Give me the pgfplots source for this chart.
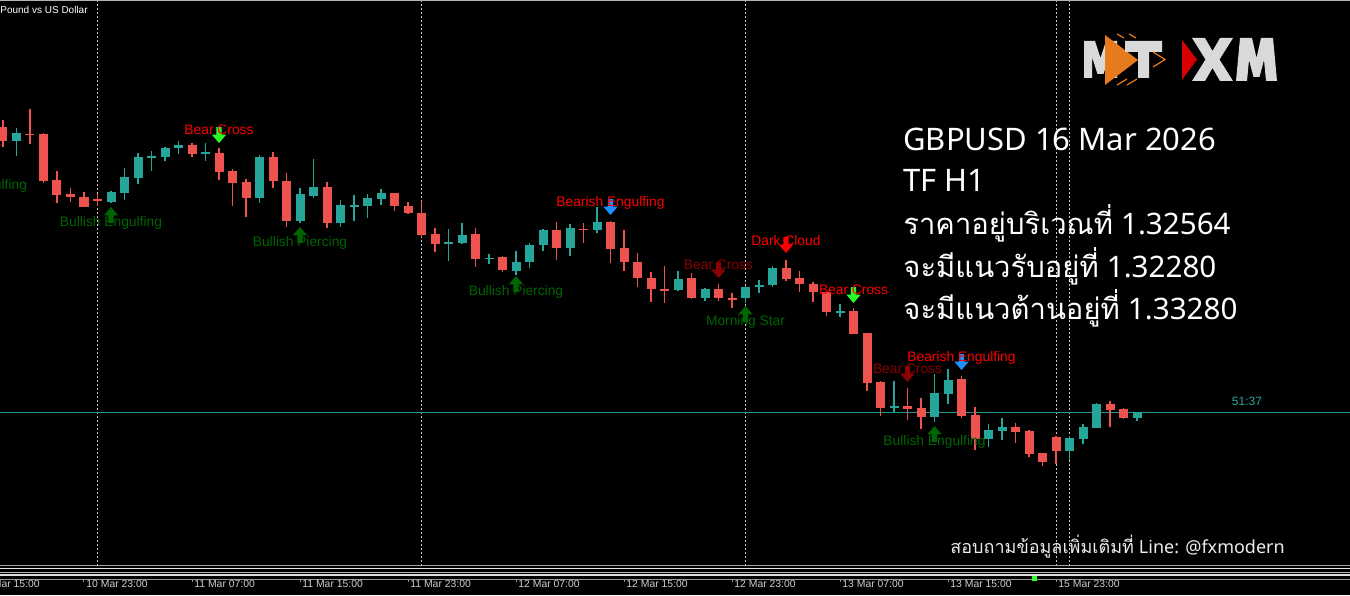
\documentclass[border=0pt]{standalone}
\usepackage{fontspec}
\setmainfont{Liberation Sans}
\newfontfamily\thaifont[Script=Thai]{Loma}
\newfontfamily\nsans{Noto Sans}
\usepackage{pgfplots}
\usepackage{pgfplotstable}
\pgfplotsset{compat=1.18}

\definecolor{bullc}{RGB}{38,166,154}
\definecolor{bearc}{RGB}{239,83,80}
\definecolor{pricec}{RGB}{32,150,140}
\definecolor{dashc}{RGB}{200,200,200}
\definecolor{axisc}{RGB}{150,150,150}
\definecolor{tickc}{RGB}{205,205,205}
\definecolor{sigRed}{RGB}{255,0,0}
\definecolor{sigDkRed}{RGB}{139,0,0}
\definecolor{sigGreen}{RGB}{0,100,0}
\definecolor{sigLime}{RGB}{40,255,40}
\definecolor{sigBlue}{RGB}{30,144,255}
\definecolor{logoGray}{RGB}{217,217,217}
\definecolor{logoOrange}{RGB}{232,122,30}
\definecolor{logoRed}{RGB}{215,0,0}

\newcommand\fsz[1]{\fontsize{#1}{#1}\selectfont}

% signal arrows, tip at the data point
\pgfdeclareplotmark{sigdown}{%
  \pgfpathmoveto{\pgfpoint{0pt}{0pt}}%
  \pgfpathlineto{\pgfpoint{3.6pt}{4.2pt}}%
  \pgfpathlineto{\pgfpoint{1.3pt}{4.2pt}}%
  \pgfpathlineto{\pgfpoint{1.3pt}{8pt}}%
  \pgfpathlineto{\pgfpoint{-1.3pt}{8pt}}%
  \pgfpathlineto{\pgfpoint{-1.3pt}{4.2pt}}%
  \pgfpathlineto{\pgfpoint{-3.6pt}{4.2pt}}%
  \pgfpathclose\pgfusepathqfill}
\pgfdeclareplotmark{sigup}{%
  \pgfpathmoveto{\pgfpoint{0pt}{0pt}}%
  \pgfpathlineto{\pgfpoint{3.6pt}{-4.2pt}}%
  \pgfpathlineto{\pgfpoint{1.3pt}{-4.2pt}}%
  \pgfpathlineto{\pgfpoint{1.3pt}{-8pt}}%
  \pgfpathlineto{\pgfpoint{-1.3pt}{-8pt}}%
  \pgfpathlineto{\pgfpoint{-1.3pt}{-4.2pt}}%
  \pgfpathlineto{\pgfpoint{-3.6pt}{-4.2pt}}%
  \pgfpathclose\pgfusepathqfill}

% H1 candles, x = bar index (0 = 10 Mar 23:00), prices as chart height from the top
\pgfplotstableread{
x o h l c
-6 127.3 120 146.7 140.7
-4 133.7 109 144 134.7
-3 134 133 183 180.7
-2 180 170.7 203.3 195
-1 194.3 188.3 202.3 197
0 197.3 191.7 206.7 206.7
1 199 194.3 206 201
8 145 142.7 156.7 154
10 152.7 148.3 180 171.7
11 171 169.3 206 182.7
12 182.3 179 216.7 198.3
14 157 152 187.7 181
15 181.3 172.7 226.7 220.7
18 187.3 182.3 228.3 222.7
23 193.3 193.3 210.7 205.7
24 206 202.3 214 213.3
25 212.7 201 236.7 234.5
26 234 228.3 251.5 243.7
29 234 228.3 266.7 258.7
31 256.7 256 272.3 269.7
35 229.7 222 260 247.7
37 228.7 223.3 243.3 229.3
39 222 220.7 262.7 249
40 248.3 230 270.7 262
41 261.7 253.3 286.7 278.3
42 278 271.7 301.7 289.3
43 289 266 303.3 290
45 277.7 273.3 299 297.7
47 289.3 284.3 300.7 298.3
48 298 293.3 308.3 298.7
52 268 260 281 279
53 278.3 270.7 291.7 284
54 284.3 281.7 301.7 292
55 291.7 290 315.7 312
57 310.7 308.3 334 334
58 333.3 333.3 390.7 382.7
59 381.7 380.7 416 408.3
61 406 387.7 420 409
62 408.3 397.7 429.3 416.7
65 379 375.7 417.7 416
66 415 406.7 450 439.3
69 426.7 422.7 443.3 431.7
70 431 430 457.3 454
71 453 452.7 465.7 462.3
72 437 436 464 451.3
76 404 401 426.7 410
77 409.3 408.3 419.3 418.3
}\bear

\pgfplotstableread{
x o h l c
-5 140.7 128 155.7 133.3
2 201.7 190.7 202.7 192.3
3 193 168.3 200 177.3
4 177.7 152.7 183.7 157.3
5 157.3 151 170.7 156.3
6 156.7 146.7 161 147.7
7 148 141 154 145.3
9 153.7 142.7 161 152.3
13 198.3 155 202.7 157
16 220.7 188.3 222.7 194
17 195.7 159.3 198.3 187.3
19 222.7 200 226.7 205.3
20 205.7 195 220.7 205
21 205.7 194 217.7 198.3
22 198.7 189 205 193.3
27 243 229 260.7 242
28 242.7 222.7 244.3 234.7
30 259 254.3 264.3 257.7
32 270.7 251.3 275 261.7
33 262 242.7 268.3 245
34 244.7 228.7 250.7 229.7
36 247.7 224.3 256 228.3
38 230 206.7 233.3 222
44 290 270.7 291 278.7
46 297.7 287.7 300.7 289.3
49 297.7 286 303.3 287
50 286.7 280 293.3 285
51 285 266 286.7 268
56 312 304.3 316.7 311
60 408 381 411.7 406
63 416.7 374.3 421.7 393.3
64 394 369.3 404 380
67 439 424 446.7 430.3
68 430.7 418.3 440 426.7
73 450.7 436 460 438
74 439 424.3 444 427
75 427.7 403.3 428.3 404
78 418.3 412.3 420.7 412.3
}\bull

\begin{document}
\begin{tikzpicture}
\path[use as bounding box] (0,0) rectangle (675pt,297.5pt);
\fill[black] (0,0) rectangle (675pt,297.5pt);
\begin{axis}[
  at={(0pt,8pt)}, anchor=south west,
  scale only axis, width=675pt, height=289.5pt,
  xmin=-6.2222, xmax=93.7778, ymin=0, ymax=579,
  y dir=reverse, clip=false,
  axis x line=bottom, axis y line=none,
  axis line style={-, draw=axisc, line width=0.5pt},
  xtick={0,8,...,72},
  xticklabels={10 Mar 23:00,11 Mar 07:00,11 Mar 15:00,11 Mar 23:00,12 Mar 07:00,12 Mar 15:00,12 Mar 23:00,13 Mar 07:00,13 Mar 15:00,15 Mar 23:00},
  tick align=outside, major tick length=1.5pt,
  xtick style={draw=axisc, line width=0.5pt},
  xticklabel style={anchor=north west, inner sep=0pt, font=\fsz{5.2pt}, text=tickc, xshift=1pt, yshift=1.2pt},
  nodes near coords style={font=\fsz{6.9pt}, anchor=center, inner sep=0pt},
]
% day separators and bid line
\draw[dashc, line width=0.5pt, dash pattern=on 1pt off 1pt] (axis cs:1,0) -- (axis cs:1,565);
\draw[dashc, line width=0.5pt, dash pattern=on 1pt off 1pt] (axis cs:25,0) -- (axis cs:25,565);
\draw[dashc, line width=0.5pt, dash pattern=on 1pt off 1pt] (axis cs:49,0) -- (axis cs:49,565);
\draw[dashc, line width=0.5pt, dash pattern=on 1pt off 1pt] (axis cs:72,0) -- (axis cs:72,565);
\draw[dashc, line width=0.5pt, dash pattern=on 1pt off 1pt] (axis cs:73,0) -- (axis cs:73,565);
\draw[pricec, line width=0.5pt] (axis cs:-6.2222,412.3) -- (axis cs:93.7778,412.3);
% scrollbar band
\draw[gray!70, line width=0.5pt] (axis cs:-6.2222,565.5) -- (axis cs:93.7778,565.5);
\draw[gray!20, line width=0.8pt] (axis cs:-6.2222,568.5) -- (axis cs:93.7778,568.5);
\draw[gray!60, line width=0.5pt] (axis cs:-6.2222,572) -- (axis cs:93.7778,572);
\draw[gray!25, line width=0.6pt] (axis cs:-6.2222,575) -- (axis cs:93.7778,575);

% wicks
\addplot[draw=none, mark=none, forget plot, error bars/.cd, y dir=plus, y explicit, error mark=none,
  error bar style={line width=0.55pt, draw=bearc}]
  table[x=x, y=h, y error plus expr={\thisrow{l}-\thisrow{h}}] {\bear};
\addplot[draw=none, mark=none, forget plot, error bars/.cd, y dir=plus, y explicit, error mark=none,
  error bar style={line width=0.55pt, draw=bullc}]
  table[x=x, y=h, y error plus expr={\thisrow{l}-\thisrow{h}}] {\bull};
% bodies
\addplot[draw=none, mark=none, forget plot, error bars/.cd, y dir=plus, y explicit, error mark=none,
  error bar style={line width=4.5pt, draw=bearc}]
  table[x=x, y=o, y error plus expr={max(\thisrow{c}-\thisrow{o},1.5)}] {\bear};
\addplot[draw=none, mark=none, forget plot, error bars/.cd, y dir=plus, y explicit, error mark=none,
  error bar style={line width=4.5pt, draw=bullc}]
  table[x=x, y=c, y error plus expr={max(\thisrow{o}-\thisrow{c},1.5)}] {\bull};

% pattern signals
\addplot[only marks, mark=sigdown, color=sigLime, point meta=explicit symbolic, nodes near coords,
  nodes near coords style={text=sigRed, yshift=6.8pt}]
  coordinates {(10,143) [Bear Cross] (57,303) [Bear Cross]};
\addplot[only marks, mark=sigdown, color=sigBlue, point meta=explicit symbolic, nodes near coords,
  nodes near coords style={text=sigRed, yshift=6pt}]
  coordinates {(39,215) [Bearish Engulfing] (65,370) [Bearish Engulfing]};
\addplot[only marks, mark=sigdown, color=sigDkRed, point meta=explicit symbolic, nodes near coords,
  nodes near coords style={text=sigDkRed, yshift=6.8pt}]
  coordinates {(47,278) [Bear Cross] (61,382) [Bear Cross]};
\addplot[only marks, mark=sigdown, color=sigRed, point meta=explicit symbolic, nodes near coords,
  nodes near coords style={text=sigRed, yshift=6.4pt}]
  coordinates {(52,253) [Dark Cloud]};
\addplot[only marks, mark=sigup, color=sigGreen, point meta=explicit symbolic, nodes near coords,
  nodes near coords style={text=sigGreen, yshift=-8pt}]
  coordinates {(-8,170) [Bullish Engulfing] (2,207) [Bullish Engulfing] (16,227) [Bullish Piercing]
    (32,276) [Bullish Piercing] (49,306) [Morning Star] (63,426) [Bullish Engulfing]};
\addplot[only marks, mark=square*, mark size=1pt, color=sigLime] coordinates {(70.4,578)};
\end{axis}

% overlays in pixel coordinates of the 1350x595 frame
\begin{scope}[x=0.5pt, y=-0.5pt, yshift=297.5pt]
\draw[gray!60, line width=0.5pt] (0,0.5) -- (1350,0.5);
\node[anchor=west, inner sep=0pt, text=white, font=\fsz{5pt}] at (0,10) {Pound vs US Dollar};
\node[anchor=north west, inner sep=0pt, text=tickc, font=\fsz{5.2pt}] at (-22,579.5) {10 Mar 15:00};
\node[anchor=center, inner sep=0pt, text=bullc, font=\fsz{6pt}] at (1247,401) {51:37};

\begin{scope}[text=white, inner sep=0pt]
\node[anchor=base west, font=\nsans\fsz{15.5pt}] at (903,151) {GBPUSD 16 Mar 2026};
\node[anchor=base west, font=\nsans\fsz{15.5pt}] at (903,192) {TF H1};
\node[anchor=base west, font=\fsz{14.6pt}] at (903,235) {{\thaifont ราคาอยู่บริเวณที่} {\nsans\fsz{14.8pt}1.32564}};
\node[anchor=base west, font=\fsz{14.6pt}] at (903,278) {{\thaifont จะมีแนวรับอยู่ที่} {\nsans\fsz{14.8pt}1.32280}};
\node[anchor=base west, font=\fsz{14.6pt}] at (903,320) {{\thaifont จะมีแนวต้านอยู่ที่} {\nsans\fsz{14.8pt}1.33280}};
\end{scope}
\node[anchor=base west, inner sep=0pt, text=gray!15, font=\fsz{9pt}] at (950,553) {{\thaifont สอบถามข้อมูลเพิ่มเติมที่} {\nsans Line: @fxmodern}};

% logo
\fill[logoGray] (1084,78) -- (1084,41) -- (1095,41) -- (1100.5,58) -- (1106,41) -- (1117,41) -- (1117,78)
  -- (1109,78) -- (1109,57) -- (1103.5,74) -- (1097.5,74) -- (1092,57) -- (1092,78) -- cycle;
\fill[logoOrange] (1105,35) -- (1138,60) -- (1105,85) -- cycle;
\fill[logoGray] (1125,41) -- (1162,41) -- (1162,52) -- (1149,52) -- (1149,78) -- (1138,78) -- (1138,52) -- (1125,52) -- cycle;
\draw[logoOrange, line width=0.6pt] (1153,52) -- (1165,59.5) -- (1153,67);
\draw[logoOrange, line width=0.6pt] (1117,34) -- (1124,38) (1129,34) -- (1136,38);
\draw[logoOrange, line width=0.6pt] (1117,85) -- (1127,79) (1127,85) -- (1137,79);
\fill[logoRed] (1182,40) -- (1197,59.5) -- (1182,80) -- cycle;
\fill[logoGray] (1192,38) -- (1205,38) -- (1212.5,51) -- (1220,38) -- (1233,38) -- (1219.5,59.5) -- (1233,81)
  -- (1220,81) -- (1212.5,68) -- (1205,81) -- (1192,81) -- (1205.5,59.5) -- cycle;
\fill[logoGray] (1236,81) -- (1240,38) -- (1252,38) -- (1256.5,58) -- (1261,38) -- (1273,38) -- (1277,81)
  -- (1266,81) -- (1264,60) -- (1259.5,77) -- (1253.5,77) -- (1249,60) -- (1247,81) -- cycle;
\end{scope}
\end{tikzpicture}
\end{document}
